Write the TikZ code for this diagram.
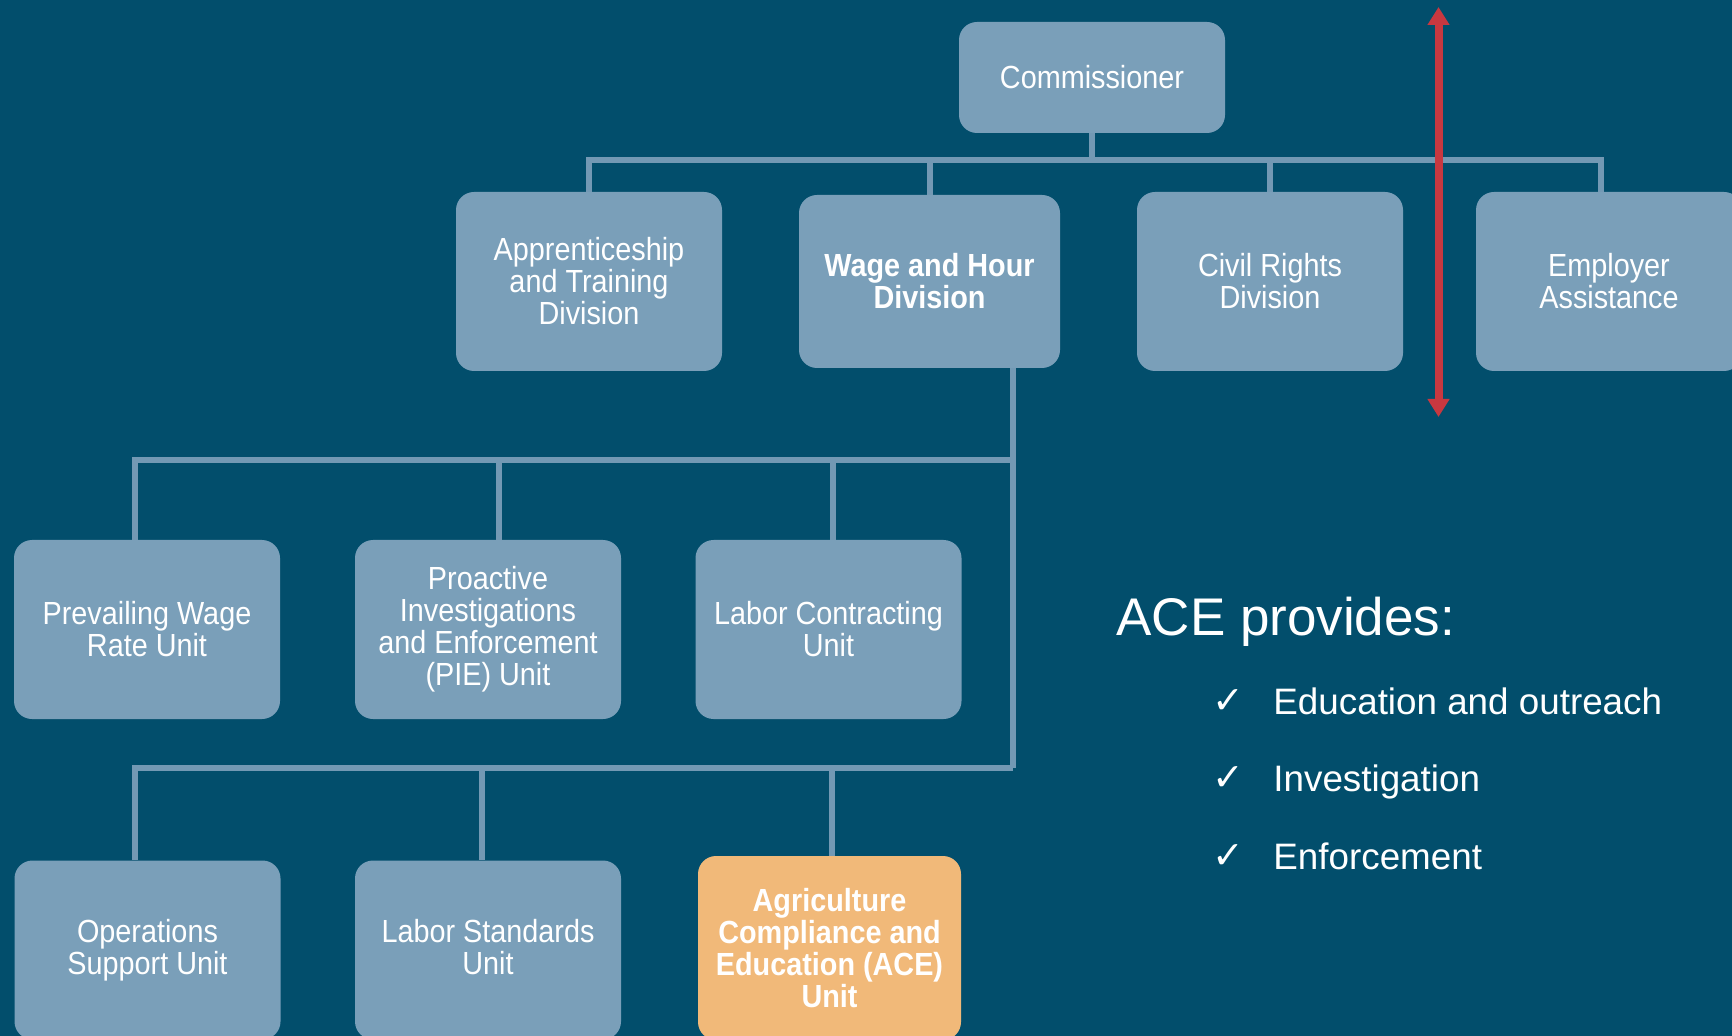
\documentclass[tikz,border=0pt]{standalone}
\usepackage{fontspec}
\setmainfont{Liberation Sans}
\newfontfamily\boxfont{Liberation Sans}[FakeStretch=0.9]
\newfontfamily\checkfont{DejaVu Sans}
\usetikzlibrary{arrows.meta}
\definecolor{bgblue}{RGB}{2,78,108}
\definecolor{boxblue}{RGB}{122,159,185}
\definecolor{connblue}{RGB}{115,153,180}
\definecolor{aceorange}{RGB}{241,185,121}
\definecolor{arrowred}{RGB}{200,56,64}
\tikzset{
  orgbox/.style={rounded corners=9pt, fill=boxblue, text=white, align=center,
    inner sep=0pt, minimum width=133pt, minimum height=89.5pt,
    font=\boxfont\fontsize{16}{16}\selectfont},
  conn/.style={draw=connblue, line width=3pt},
  redarrow/.style={draw=arrowred, line width=4pt,
    {Triangle[width=10.5pt,length=9pt]}-{Triangle[width=10.5pt,length=9pt]}},
  bigtext/.style={text=white, inner sep=0pt, anchor=base west},
  checkmark/.style={bigtext, font=\checkfont\fontsize{19}{22}\selectfont},
  itemtext/.style={bigtext, font=\fontsize{18.4}{22}\selectfont},
}
\begin{document}
\begin{tikzpicture}[x=0.5pt,y=-0.5pt]
\useasboundingbox (0,0) rectangle (1732,1036);
\clip (0,0) rectangle (1732,1036);
\fill[bgblue] (0,0) rectangle (1732,1036);

% boxes
\node[orgbox, minimum height=55.5pt] (comm) at (1092,77.5) {Commissioner};
\node[orgbox] (appr) at (589,281.5) {Apprenticeship\\and Training\\Division};
\node[orgbox, minimum width=130.5pt, minimum height=86.5pt] (wh) at (929.5,281.5) {\bfseries Wage and Hour\\\bfseries Division};
\node[orgbox] (civil) at (1270,281.5) {Civil Rights\\Division};
\node[orgbox] (emp) at (1609,281.5) {Employer\\Assistance};

\node[orgbox] (pw) at (147,629.5) {Prevailing Wage\\Rate Unit};
\node[orgbox] (pie) at (488,629.5) {Proactive\\Investigations\\and Enforcement\\(PIE) Unit};
\node[orgbox] (lc) at (828.5,629.5) {Labor Contracting\\Unit};

\node[orgbox] (ops) at (147.5,950) {Operations\\Support Unit};
\node[orgbox] (ls) at (488,950) {Labor Standards\\Unit\vphantom{p}};
\node[orgbox, fill=aceorange, minimum width=131.5pt, minimum height=92pt] (ace) at (829.5,948)
  {\bfseries Agriculture\\\bfseries Compliance and\\\bfseries Education (ACE)\\\bfseries Unit};

% connector coordinates
\coordinate (busL) at (589,160);
\coordinate (busR) at (1601,160);
\coordinate (d1) at (1013,460);
\coordinate (d2) at (1013,768);
\coordinate (aL) at (135,460);
\coordinate (aM) at (499,460);
\coordinate (aR) at (833,460);
\coordinate (bL) at (135,768);
\coordinate (bM) at (481.5,768);
\coordinate (bR) at (832,768);

% level 1 connectors
\draw[conn] (comm.south) -- (comm.south |- busL);
\draw[conn] (appr.north) -- (busL) -- (busR) -- (busR |- emp.north);
\draw[conn] (wh.north) -- (wh.north |- busL);
\draw[conn] (civil.north) -- (civil.north |- busL);

% level 2 connectors
\draw[conn] (d1 |- wh.south) -- (d2);
\draw[conn] (aL |- pw.north) -- (aL) -- (d1);
\draw[conn] (aM) -- (aM |- pie.north);
\draw[conn] (aR) -- (aR |- lc.north);

% level 3 connectors
\draw[conn] (bL |- ops.north) -- (bL) -- (d2);
\draw[conn] (bM) -- (bM |- ls.north);
\draw[conn] (bR) -- (bR |- ace.north);

% red double arrow
\coordinate (rtop) at (1438.5,7);
\coordinate (rbot) at (1438.5,417);
\draw[redarrow] (rtop) -- (rbot);

% ACE provides text
\node[bigtext, font=\fontsize{26.5}{30}\selectfont] (prov) at (1116,635) {ACE provides:};
\node[checkmark] (c1) at (1212,713) {✓};
\node[itemtext] (i1) at (1273,714) {Education and outreach};
\node[checkmark] (c2) at (1212,790.5) {✓};
\node[itemtext] (i2) at (1273,791.5) {Investigation};
\node[checkmark] (c3) at (1212,868) {✓};
\node[itemtext] (i3) at (1273,869) {Enforcement};
\end{tikzpicture}
\end{document}
